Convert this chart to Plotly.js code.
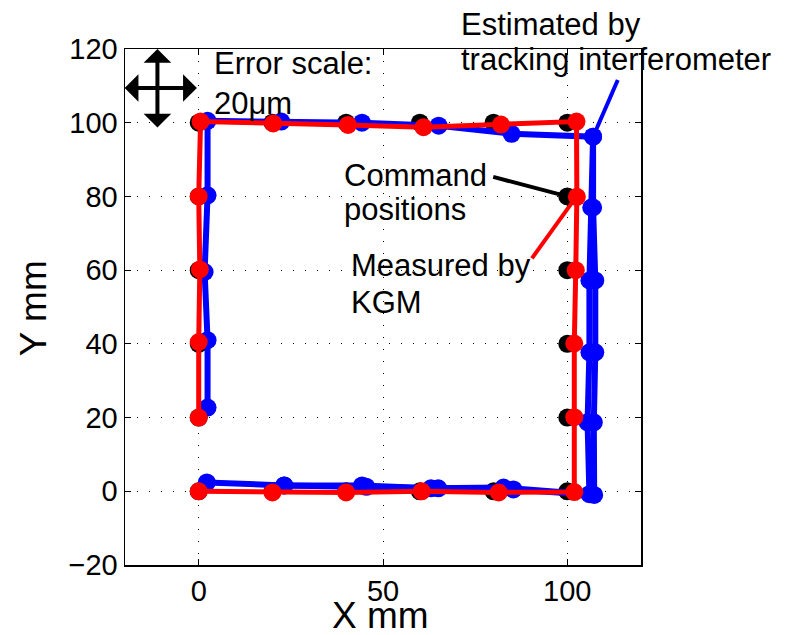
<!DOCTYPE html>
<html>
<head>
<meta charset="utf-8">
<script src="https://cdn.plot.ly/plotly-3.0.1.min.js"></script>
<style>html,body{margin:0;padding:0;background:#fff;}#chart{width:787px;height:635px;}</style>
</head>
<body>
<div id="chart"></div>
<script>
// Command positions (mm)
const cmdX = [0,20,40,60,80,100,100,100,100,100,100,80,60,40,20,0,0,0,0,0];
const cmdY = [0,0,0,0,0,0,20,40,60,80,100,100,100,100,100,100,80,60,40,20];
// Measured by KGM (mm)
const kgmX = [0,20,40,60.5,81.4,101.9,101.9,101.9,102.3,102.6,102.5,82,61,40.5,20.2,0.5,0,0.3,0,0];
const kgmY = [0,-0.3,-0.3,0,-0.3,-0.2,20.1,40.1,60,79.9,100.3,99.5,98.8,99.4,99.8,100.3,80,60.2,40.5,20];
// Estimated by tracking interferometer, first pass (mm)
const trkX = [2.2,23.2,44.3,63,82.7,106,105.5,106,106,106.5,107,84.9,65.1,44.3,22.4,2.4,2.4,1.6,2.4,2.4];
const trkY = [2.4,1.6,1.6,0.8,1,-0.8,18.7,37.7,57.2,77,96.2,97,99.2,100,100.3,100.5,80.3,59.5,41,22.7];
// Estimated by tracking interferometer, second pass (mm)
const trk2X = [23.2,45.5,65,85.4,107.3,107.2,107.6,107.6,107,107];
const trk2Y = [1.6,1.2,0.8,0.5,-1,18.7,37.7,57.2,77,96.2];
// Axis ticks
const xTicks = [0,50,100];
const yTicks = [-20,0,20,40,60,80,100,120];

const FONT = 'Liberation Sans, Arial, Helvetica, sans-serif';

const traces = [
  {x: cmdX, y: cmdY, mode: 'markers', type: 'scatter', name: 'Command positions',
   marker: {color: '#000000', size: 18}, hoverinfo: 'skip'},
  {x: trk2X, y: trk2Y, mode: 'lines+markers', type: 'scatter', name: 'Tracking interferometer (2)',
   line: {color: '#0000ff', width: 6}, marker: {color: '#0000ff', size: 18}},
  {x: trkX, y: trkY, mode: 'lines+markers', type: 'scatter', name: 'Estimated by tracking interferometer',
   line: {color: '#0000ff', width: 6}, marker: {color: '#0000ff', size: 18}},
  {x: kgmX, y: kgmY, mode: 'lines+markers', type: 'scatter', name: 'Measured by KGM',
   line: {color: '#ff0000', width: 5}, marker: {color: '#ff0000', size: 18}}
];

const axisCommon = {
  showline: true, mirror: 'ticks', linecolor: '#000', linewidth: 1.5,
  ticks: 'inside', ticklen: 6, tickwidth: 1, tickcolor: '#000',
  showgrid: true, gridcolor: '#000', gridwidth: 1, griddash: '1px,11px',
  zeroline: false, tickfont: {family: FONT, size: 29, color: '#000'},
  fixedrange: true
};

const txt = (text, x, y, opts) => Object.assign({
  text: text, xref: 'paper', yref: 'paper', x: x, y: y, showarrow: false,
  xanchor: 'left', yanchor: 'middle', align: 'left',
  font: {family: FONT, size: 31, color: '#000'}
}, opts || {});

const arrow = (x, y, ax, ay) => ({
  text: '', xref: 'x', yref: 'y', axref: 'x', ayref: 'y', x: x, y: y, ax: ax, ay: ay,
  showarrow: true, arrowhead: 1, startarrowhead: 1, arrowside: 'end+start',
  arrowwidth: 4, arrowsize: 1.15, startarrowsize: 1.15, arrowcolor: '#000'
});

const layout = {
  width: 787, height: 635,
  margin: {l: 125, r: 146, t: 49, b: 70, pad: 0},
  paper_bgcolor: '#fff', plot_bgcolor: '#fff',
  showlegend: false,
  font: {family: FONT, color: '#000'},
  xaxis: Object.assign({}, axisCommon, {range: [-20, 120], tickvals: xTicks, ticktext: xTicks.map(String)}),
  yaxis: Object.assign({}, axisCommon, {range: [-20, 120], tickvals: yTicks, ticktext: yTicks.map(v => v < 0 ? '\u2212' + Math.abs(v) : String(v))}),
  shapes: [
    {type: 'line', xref: 'x', yref: 'y', x0: 79.9, y0: 85.3, x1: 100, y1: 80, line: {color: '#000', width: 4}},
    {type: 'line', xref: 'x', yref: 'y', x0: 90.4, y0: 63.2, x1: 102.5, y1: 80, line: {color: '#ff0000', width: 4}},
    {type: 'line', xref: 'x', yref: 'y', x0: 113.7, y0: 111.6, x1: 107, y1: 96.2, line: {color: '#0000ff', width: 4}}
  ],
  annotations: [
    arrow(-0.5, 109.4, -20.5, 109.4),
    arrow(-11.2, 120, -11.2, 98.3),
    txt('Error scale:', 0.1686, 0.971),
    txt('20\u03bcm', 0.1686, 0.8953),
    txt('Command', 0.4205, 0.7558),
    txt('positions', 0.4205, 0.688),
    txt('Measured by', 0.4341, 0.5795),
    txt('KGM', 0.4341, 0.5078),
    txt('Estimated by', 0.6473, 1.0484),
    txt('tracking interferometer', 0.6473, 0.9787),
    txt('X mm', 0.496, -0.0985, {xanchor: 'center', font: {family: FONT, size: 37, color: '#000'}}),
    txt('Y mm', -0.178, 0.498, {xanchor: 'center', textangle: -90, font: {family: FONT, size: 37, color: '#000'}})
  ]
};

Plotly.newPlot('chart', traces, layout, {displayModeBar: false, staticPlot: true});
</script>
</body>
</html>
